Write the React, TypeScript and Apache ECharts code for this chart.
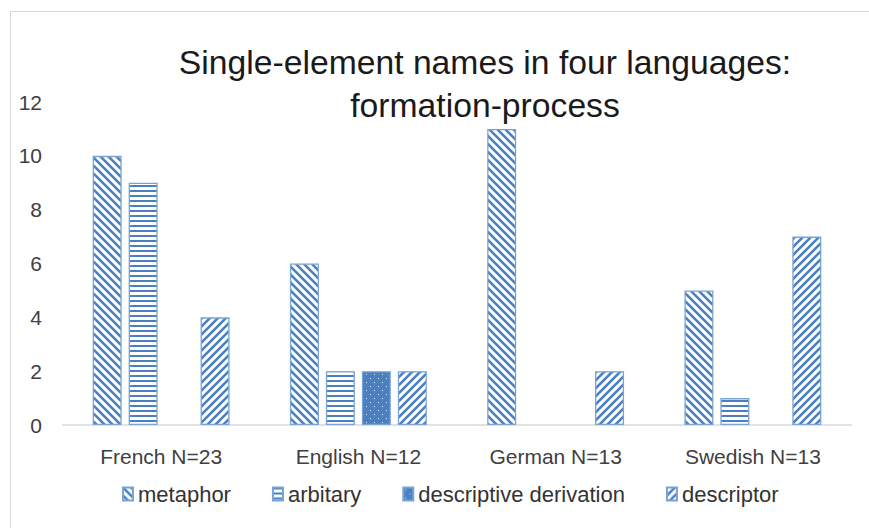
import React, { useEffect, useRef } from 'react';
import * as echarts from 'echarts';

const titleLines = ['Single-element names in four languages:', 'formation-process'];
const categories = ['French N=23', 'English N=12', 'German N=13', 'Swedish N=13'];
const seriesNames = ['metaphor', 'arbitary', 'descriptive derivation', 'descriptor'];
const metaphor = [10, 6, 11, 5];
const arbitary = [9, 2, 0, 1];
const descriptiveDerivation = [0, 2, 0, 0];
const descriptor = [4, 2, 2, 7];
const yMin = 0;
const yMax = 12;
const yStep = 2;

const BLUE = '#4a80c2';
const BORDER = '#79a3d6';
const FONT = 'Liberation Sans';

function makePattern(kind: string) {
  const c = document.createElement('canvas');
  let w = 8;
  let h = 8;
  if (kind === 'h') {
    w = 4;
    h = 5;
  }
  c.width = w;
  c.height = h;
  const g = c.getContext('2d') as CanvasRenderingContext2D;
  if (kind === 'dots') {
    g.fillStyle = BLUE;
    g.fillRect(0, 0, w, h);
    g.fillStyle = 'rgba(255,255,255,0.8)';
    g.fillRect(2, 2, 1, 1);
    g.fillRect(6, 6, 1, 1);
  } else if (kind === 'h') {
    g.fillStyle = '#ffffff';
    g.fillRect(0, 0, w, h);
    g.fillStyle = BLUE;
    g.fillRect(0, 0, w, 2);
  } else {
    g.fillStyle = '#ffffff';
    g.fillRect(0, 0, w, h);
    g.strokeStyle = BLUE;
    g.lineWidth = 2.6;
    g.beginPath();
    for (const k of [-8, 0, 8]) {
      if (kind === 'back') {
        g.moveTo(k - 1, -1);
        g.lineTo(k + 9, 9);
      } else {
        g.moveTo(k - 1, 9);
        g.lineTo(k + 9, -1);
      }
    }
    g.stroke();
  }
  return { image: c, repeat: 'repeat', imageWidth: w, imageHeight: h };
}

export default function App() {
  const ref = useRef<HTMLDivElement>(null);
  useEffect(() => {
    if (!ref.current) return;
    const chart = echarts.init(ref.current, null, { renderer: 'svg' });
    const patterns = [makePattern('back'), makePattern('h'), makePattern('dots'), makePattern('fwd')];
    const values = [metaphor, arbitary, descriptiveDerivation, descriptor];
    const series = seriesNames.map((name, i) => ({
      name,
      type: 'bar',
      barWidth: 29,
      barGap: '24%',
      itemStyle: { color: patterns[i] as any, borderColor: BORDER, borderWidth: 1.3 },
      data: values[i].map((v) => (v === 0 ? { value: v, itemStyle: { borderWidth: 0 } } : v)),
    }));
    chart.setOption({
      animation: false,
      backgroundColor: '#ffffff',
      title: {
        text: titleLines.join('\n'),
        left: 485,
        top: 40,
        padding: 0,
        textAlign: 'center',
        textStyle: {
          fontFamily: FONT,
          fontSize: 33.7,
          fontWeight: 'normal',
          color: '#1a1a1a',
          lineHeight: 43,
        },
      },
      graphic: [
        {
          type: 'rect',
          shape: { x: 10.5, y: 11.5, width: 900, height: 600 },
          style: { fill: 'none', stroke: '#d9d9d9', lineWidth: 1 },
          silent: true,
        },
      ],
      legend: {
        data: seriesNames,
        left: 122,
        top: 483,
        padding: 0,
        itemWidth: 10,
        itemHeight: 13,
        itemGap: 41,
        icon: 'rect',
        textStyle: { fontFamily: FONT, fontSize: 22, color: '#333333' },
      },
      grid: {
        left: 62.5,
        right: 17.5,
        top: 102,
        bottom: 103,
        containLabel: false,
        outerBoundsMode: 'none',
      },
      xAxis: {
        type: 'category',
        data: categories,
        axisLine: { show: true, lineStyle: { color: '#d9d9d9', width: 1.5 } },
        axisTick: { show: false },
        axisLabel: { fontFamily: FONT, fontSize: 21, color: '#404040', margin: 21 },
        splitLine: { show: false },
      },
      yAxis: {
        type: 'value',
        min: yMin,
        max: yMax,
        interval: yStep,
        axisLine: { show: false },
        axisTick: { show: false },
        splitLine: { show: false },
        axisLabel: { fontFamily: FONT, fontSize: 21, color: '#404040', margin: 20.5 },
      },
      series,
    } as any);
    return () => chart.dispose();
  }, []);
  return (
    <div
      ref={ref}
      style={{ position: 'fixed', left: 0, top: 0, width: 869, height: 528 }}
    />
  );
}
